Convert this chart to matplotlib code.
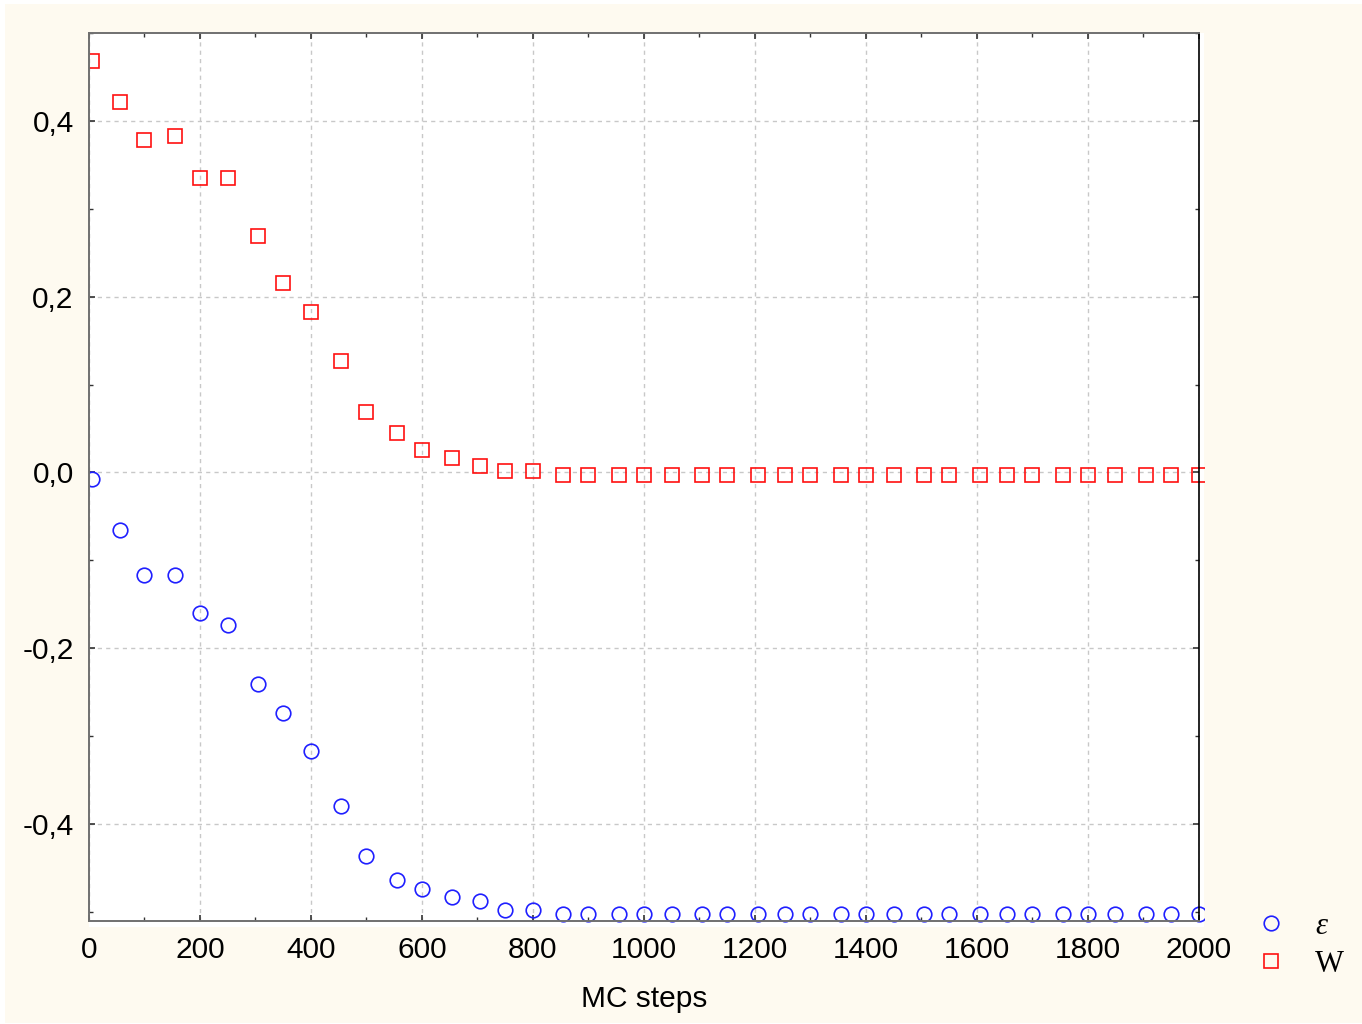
import matplotlib
matplotlib.use("Agg")
import matplotlib.pyplot as plt
from matplotlib.patches import Rectangle
from matplotlib.ticker import MultipleLocator, FuncFormatter

# MC step at which each sample was taken
steps = [5, 55, 100, 155, 200, 250, 305, 350, 400, 455, 500, 555, 600, 655,
         705, 750, 800, 855, 900, 955, 1000, 1050, 1105, 1150, 1205, 1255,
         1300, 1355, 1400, 1450, 1505, 1550, 1605, 1655, 1700, 1755, 1800,
         1850, 1905, 1950, 2000]

eps = [-0.007, -0.065, -0.117, -0.117, -0.160, -0.174, -0.241, -0.274,
       -0.317, -0.379, -0.436, -0.464, -0.474, -0.483, -0.488, -0.498,
       -0.498, -0.502, -0.502, -0.502, -0.502, -0.502, -0.502, -0.502,
       -0.502, -0.502, -0.502, -0.502, -0.502, -0.502, -0.502, -0.502,
       -0.502, -0.502, -0.502, -0.502, -0.502, -0.502, -0.502, -0.502,
       -0.502]

W = [0.468, 0.421, 0.378, 0.383, 0.335, 0.335, 0.269, 0.216, 0.183, 0.127,
     0.069, 0.045, 0.026, 0.016, 0.007, 0.002, 0.002, -0.003, -0.003,
     -0.003, -0.003, -0.003, -0.003, -0.003, -0.003, -0.003, -0.003,
     -0.003, -0.003, -0.003, -0.003, -0.003, -0.003, -0.003, -0.003,
     -0.003, -0.003, -0.003, -0.003, -0.003, -0.003]

W_PX, H_PX = 1362, 1024
fig = plt.figure(figsize=(W_PX / 100, H_PX / 100), dpi=100, facecolor="white")

# cream page with a white plotting panel slightly larger than the axes
cream = Rectangle((5 / W_PX, 1 / H_PX), 1 - 5 / W_PX, 1 - 5 / H_PX,
                  transform=fig.transFigure, facecolor="#fefaf0",
                  edgecolor="none", zorder=-2)
panel = Rectangle((89 / W_PX, 1 - 927 / H_PX), (1204 - 89) / W_PX,
                  (927 - 33) / H_PX, transform=fig.transFigure,
                  facecolor="white", edgecolor="none", zorder=-1)
fig.patches.extend([cream, panel])

ax = fig.add_axes([89 / W_PX, 1 - 920.7 / H_PX,
                   (1198.7 - 89) / W_PX, (920.7 - 33) / H_PX])
ax.set_facecolor("white")

l_eps, = ax.plot(steps, eps, linestyle="none", marker="o", ms=10.5,
                 mfc="none", mec="#1f1fff", mew=1.2, label="ε")
l_w, = ax.plot(steps, W, linestyle="none", marker="s", ms=10,
               mfc="none", mec="#ff1010", mew=1.2, label="W")
for ln in (l_eps, l_w):
    ln.set_clip_path(panel)

ax.set_xlim(0, 2000)
ax.set_ylim(-0.51, 0.5)
ax.xaxis.set_major_locator(MultipleLocator(200))
ax.xaxis.set_minor_locator(MultipleLocator(100))
ax.yaxis.set_major_locator(MultipleLocator(0.2))
ax.yaxis.set_minor_locator(MultipleLocator(0.1))
ax.yaxis.set_major_formatter(FuncFormatter(
    lambda v, p: f"{v:.1f}".replace(".", ",").replace("-0,0", "0,0")))

ax.grid(True, which="major", color="#c8c8c8", linestyle=(0, (3, 3)), linewidth=1)
ax.set_axisbelow(True)

ax.tick_params(which="both", direction="in", top=True, right=True,
               labelsize=21.5, pad=11, color="#333333")
ax.tick_params(which="major", length=4, width=1.2)
ax.tick_params(which="minor", length=3, width=1)
for lab in ax.get_xticklabels() + ax.get_yticklabels():
    lab.set_family("Liberation Sans")

for side in ("left", "bottom", "top"):
    ax.spines[side].set_color("#707070")
    ax.spines[side].set_linewidth(1.4)
ax.spines["right"].set_color("black")
ax.spines["right"].set_linewidth(1.2)

ax.set_xlabel("MC steps", fontsize=21.5, family="Liberation Sans", labelpad=15)

leg = ax.legend(handles=[l_eps, l_w], loc="upper left",
                bbox_to_anchor=(1222 / W_PX, 1 - 884 / H_PX),
                bbox_transform=fig.transFigure, frameon=False,
                handlelength=1.4, handletextpad=0.75, labelspacing=0.31,
                prop={"family": "Liberation Serif", "size": 22})
leg.get_texts()[0].set_fontstyle("italic")

fig.savefig("out.png", dpi=100, facecolor=fig.get_facecolor())
